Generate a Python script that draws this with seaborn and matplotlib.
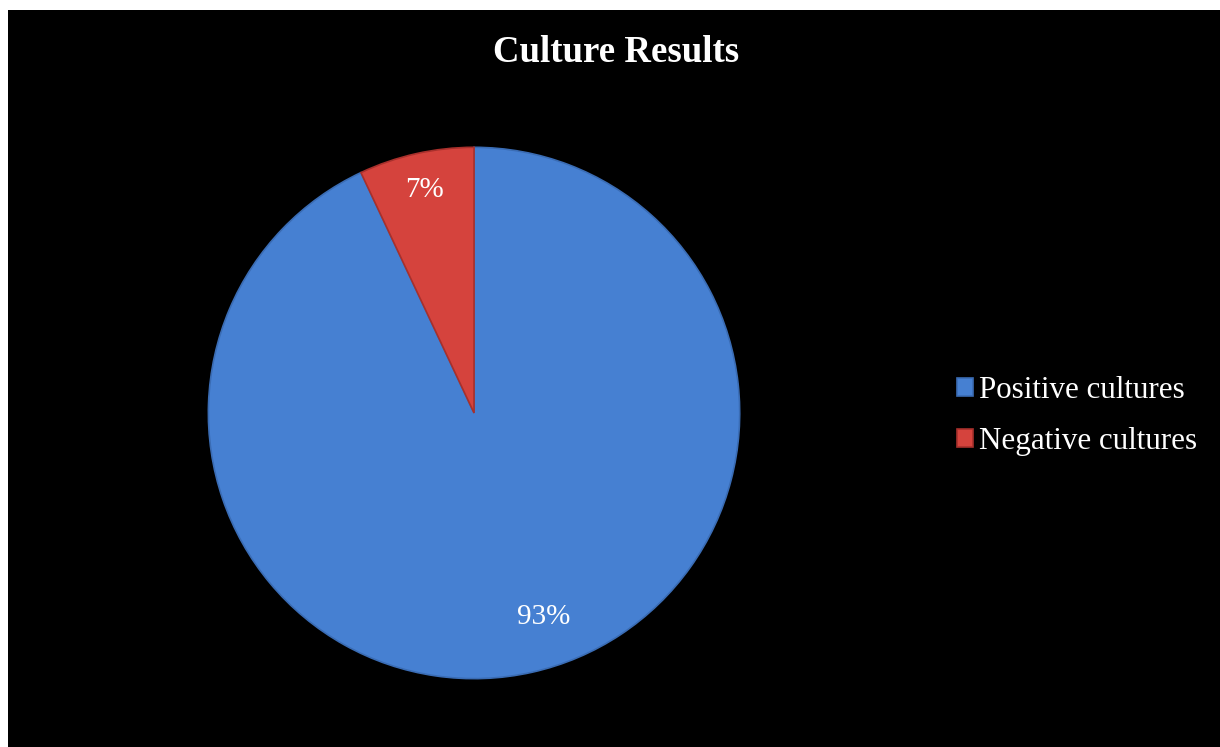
import matplotlib
matplotlib.use('Agg')
import matplotlib.pyplot as plt
import seaborn as sns
from matplotlib.patches import Rectangle

sns.set_style('white')
plt.rcParams['font.family'] = ['Liberation Serif', 'DejaVu Serif']

# Datos
categorias = ['Positive cultures', 'Negative cultures']
porcentajes = [93, 7]
colores = ['#4680D2', '#D5433D']
bordes = ['#3A6CB4', '#A8302C']

fig = plt.figure(figsize=(12.2, 7.47), dpi=100)
fig.patch.set_facecolor('white')
# fondo negro con margen blanco arriba/izquierda
fig.add_artist(Rectangle((8 / 1220, 0), 1, 737 / 747, transform=fig.transFigure,
                         facecolor='black', edgecolor='none', zorder=0))

ax = fig.add_axes([0.1697, 0.0897, 0.4377, 0.7149])
ax.set_facecolor('none')

wedges, textos, autotextos = ax.pie(
    porcentajes,
    colors=colores,
    startangle=90,
    counterclock=False,
    autopct='%1.0f%%',
    pctdistance=0.86,
    wedgeprops=dict(linewidth=1.2),
    textprops=dict(color='white', fontsize=21),
)
for w, b in zip(wedges, bordes):
    w.set_edgecolor(b)
# la etiqueta grande queda algo más adentro y a la derecha, como en Excel
x93, y93 = autotextos[0].get_position()
autotextos[0].set_position((x93 + 0.075, y93 + 0.07))
ax.set_xlim(-1.005, 1.005)
ax.set_ylim(-1.005, 1.005)
ax.set_aspect('equal')
ax.axis('off')

fig.text(616 / 1220, 1 - 52 / 747, 'Culture Results', ha='center', va='center',
         color='white', fontsize=26.5, fontweight='bold')

leg = fig.legend(wedges, categorias, loc='center left',
                 bbox_to_anchor=(945 / 1220, 1 - 416 / 747),
                 frameon=False, fontsize=22.3, labelcolor='white',
                 handlelength=0.5, handleheight=0.5, handletextpad=0.2,
                 labelspacing=0.72, borderaxespad=0)

plt.savefig('out.png', dpi=100, facecolor=fig.get_facecolor())
plt.close()
